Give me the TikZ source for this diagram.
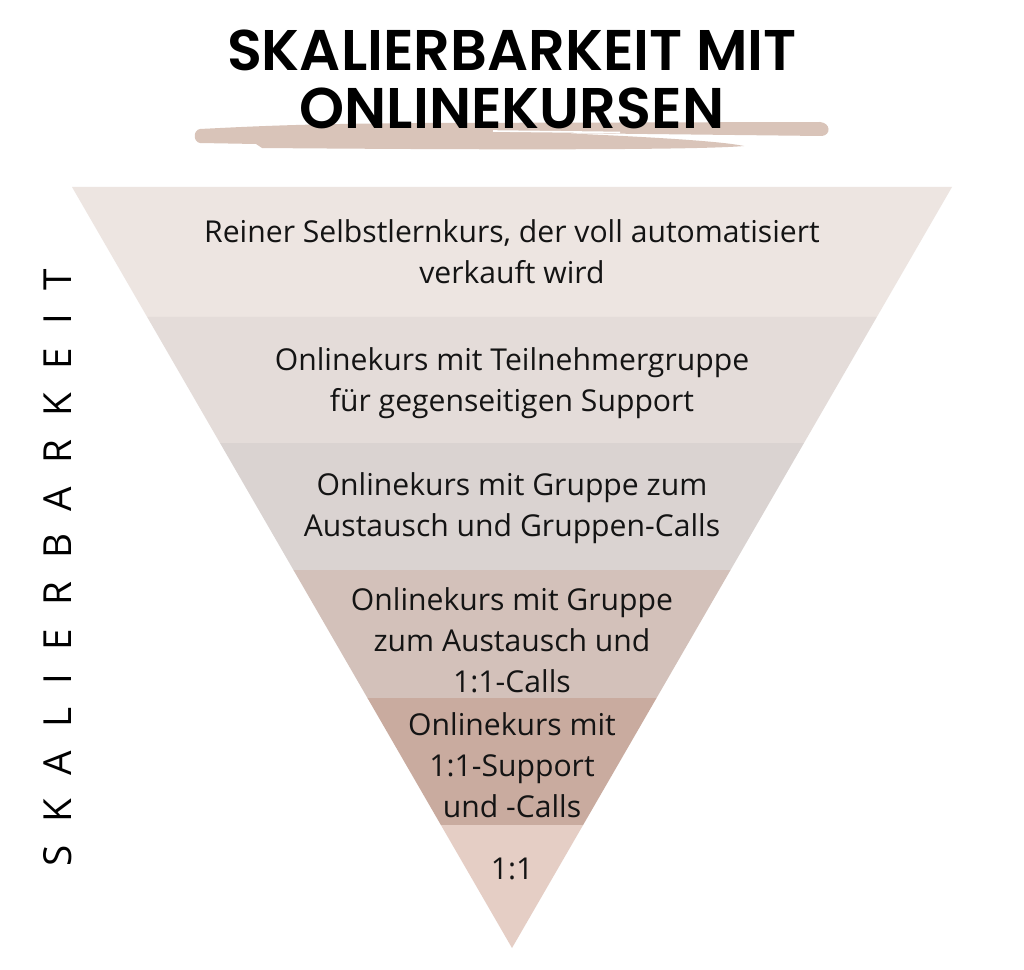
\documentclass[tikz,border=0pt]{standalone}
\usepackage{fontspec}
\setmainfont{Open Sans}
\newfontfamily\titlefont{Poppins}[UprightFont=* SemiBold]
\usetikzlibrary{calc}
\definecolor{bandA}{HTML}{EDE5E1}
\definecolor{bandB}{HTML}{E4DCD9}
\definecolor{bandC}{HTML}{DAD3D1}
\definecolor{bandD}{HTML}{D3C1BA}
\definecolor{bandE}{HTML}{C9AB9F}
\definecolor{bandF}{HTML}{E5CEC5}
\definecolor{brush}{HTML}{D9C4B9}
\tikzset{label/.style={align=center,font=\fontsize{22.6}{30.8}\selectfont,text=black!92},
 head/.style={font=\titlefont\fontsize{43}{43}\selectfont,inner sep=0pt}}

\begin{document}
\begin{tikzpicture}[x=0.75pt,y=-0.75pt]
\useasboundingbox[fill=white] (0,0) rectangle (1024,970);
% brush stroke under the title
\fill[brush] (200,129) .. controls (260,126) and (300,124) .. (420,123)
  -- (820,122) .. controls (831,123) and (831,135) .. (822,136)
  -- (560,133) .. controls (650,137) and (720,141) .. (744,146)
  .. controls (700,150) and (500,150) .. (262,148)
  -- (256,144) -- (200,143) .. controls (193,142) and (193,130) .. (200,129) -- cycle;
\draw[white,line width=1.2pt] (493,131) -- (620,132.5);
\node[head] (t1) at (512,50) {SKALIERBARKEIT MIT};
\node[head] (t2) at (512,108) {ONLINEKURSEN};
% funnel
\coordinate (tl) at (72,187);
\coordinate (tr) at (952,187);
\coordinate (apex) at (512,948);
\foreach \a/\b/\c in {0/0.1708/bandA,0.1708/0.3364/bandB,0.3364/0.5033/bandC,
  0.5033/0.6715/bandD,0.6715/0.8384/bandE}
  \fill[\c] ($(tl)!\a!(apex)$) -- ($(tr)!\a!(apex)$) -- ($(tr)!\b!(apex)$) -- ($(tl)!\b!(apex)$) -- cycle;
\fill[bandF] ($(tl)!0.8384!(apex)$) -- ($(tr)!0.8384!(apex)$) -- (apex) -- cycle;

\node[label] (s1) at (512,252) {Reiner Selbstlernkurs, der voll automatisiert\\verkauft wird};
\node[label] (s2) at (512,383) {Onlinekurs mit Teilnehmergruppe\\für gegenseitigen Support};
\node[label] (s3) at (512,508) {Onlinekurs mit Gruppe zum\\Austausch und Gruppen-Calls};
\node[label] (s4) at (512,640) {Onlinekurs mit Gruppe\\zum Austausch und\\1:1-Calls};
\node[label] (s5) at (512,765) {Onlinekurs mit\\1:1-Support\\und -Calls};
\node[label] (s6) at (512,869) {1:1};

\node[rotate=90,font=\fontsize{29}{29}\selectfont,inner sep=0pt] (axis) at (58,568)
  {\addfontfeature{LetterSpace=60}SKALIERBARKEIT};
\end{tikzpicture}
\end{document}
